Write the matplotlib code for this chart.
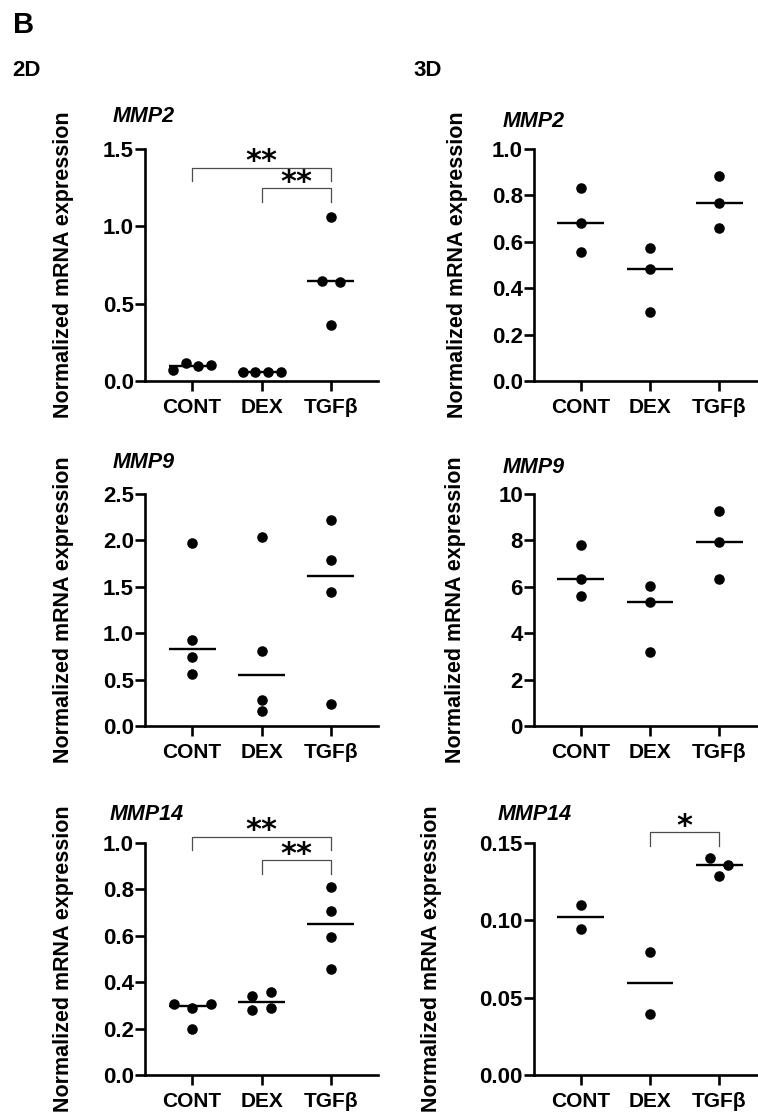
import numpy as np
import matplotlib
matplotlib.use('Agg')
import matplotlib.pyplot as plt
from matplotlib.ticker import FormatStrFormatter

plt.rcParams['font.family'] = ['Liberation Sans', 'DejaVu Sans']
plt.rcParams['font.weight'] = 'bold'
plt.rcParams['axes.labelweight'] = 'bold'

### DATA ###
groups = ['CONT', 'DEX', 'TGFβ']

# 2D culture
mmp2_2d = [[0.071, 0.114, 0.097, 0.103],
           [0.058, 0.060, 0.061, 0.060],
           [1.062, 0.649, 0.642, 0.362]]
mmp9_2d = [[1.976, 0.927, 0.740, 0.557],
           [2.037, 0.812, 0.280, 0.160],
           [2.220, 1.789, 1.448, 0.233]]
mmp14_2d = [[0.308, 0.287, 0.308, 0.198],
            [0.340, 0.359, 0.280, 0.287],
            [0.811, 0.706, 0.595, 0.459]]

# 3D culture
mmp2_3d = [[0.830, 0.682, 0.556],
           [0.572, 0.484, 0.296],
           [0.882, 0.767, 0.658]]
mmp9_3d = [[7.80, 6.34, 5.62],
           [6.05, 5.36, 3.20],
           [9.25, 7.93, 6.34]]
mmp14_3d = [[0.110, 0.0943],
            [0.0794, 0.0393],
            [0.1403, 0.1355, 0.1284]]

# significance brackets: (group a, group b, height, stars)
sig_mmp2_2d = [(0, 2, 1.38, '**'), (1, 2, 1.245, '**')]
sig_mmp14_2d = [(0, 2, 1.026, '**'), (1, 2, 0.925, '**')]
sig_mmp14_3d = [(1, 2, 0.157, '*')]


### LAYOUT (pixels) ###
W, H = 758, 1119
fig = plt.figure(figsize=(W / 100, H / 100), dpi=100)

cols = {'L': (145, 378, (-0.68, 2.68)),
        'R': (534, 757, (-0.68, 2.55))}
rows = [(149, 381), (494, 726), (843, 1075)]


def swarm_offsets(vals, px_unit, px_cat, bin_px=10, step_px=18.5, max_px=19):
    # GraphPad-like: points close in y go side by side in a row
    vals = np.asarray(vals, float)
    order = np.argsort(vals, kind='stable')
    offs = np.zeros(len(vals))
    bins, cur = [], [order[0]]
    for k in order[1:]:
        if (vals[k] - vals[cur[0]]) * px_unit < bin_px:
            cur.append(k)
        else:
            bins.append(cur)
            cur = [k]
    bins.append(cur)
    for b in bins:
        b = sorted(b)
        n = len(b)
        if n > 1:
            step = min(step_px, 2 * max_px / (n - 1))
            for j, k in enumerate(b):
                offs[k] = (j - (n - 1) / 2) * step / px_cat
    return offs


def panel(col, row, data, ymax, ystep, fmt, title, title_xy, ylab_x, sig=()):
    x0, x1, xlim = cols[col]
    yt, yb = rows[row]
    ax = fig.add_axes([x0 / W, 1 - yb / H, (x1 - x0) / W, (yb - yt) / H])
    ax.set_xlim(*xlim)
    ax.set_ylim(0, ymax)
    px_unit = (yb - yt) / ymax
    px_cat = (x1 - x0) / (xlim[1] - xlim[0])

    for i, vals in enumerate(data):
        offs = swarm_offsets(vals, px_unit, px_cat)
        ax.plot(i + offs, vals, 'o', color='black', markersize=7.6,
                markeredgewidth=0, clip_on=False, zorder=3)
        med = np.median(vals)
        ax.plot([i - 0.34, i + 0.34], [med, med], color='black',
                linewidth=1.7, solid_capstyle='butt', zorder=2)

    for a, b, h, stars in sig:
        d = 0.058 * ymax
        ax.plot([a, a, b, b], [h - d, h, h, h - d], color='0.3',
                linewidth=0.9, clip_on=False)
        ax.text((a + b) / 2, h - 0.036 * ymax, stars, ha='center', va='bottom',
                fontsize=22, family='DejaVu Sans', weight='bold', clip_on=False)

    for s in ['top', 'right']:
        ax.spines[s].set_visible(False)
    for s in ['left', 'bottom']:
        ax.spines[s].set_linewidth(1.9)
        ax.spines[s].set_capstyle('projecting')
    ax.set_xticks(range(len(groups)))
    ax.set_xticklabels(groups)
    ax.set_yticks(np.arange(0, ymax + ystep / 2, ystep))
    ax.yaxis.set_major_formatter(FormatStrFormatter(fmt))
    ax.tick_params(axis='both', direction='out', length=7, width=1.9)
    ax.tick_params(axis='y', pad=1, labelsize=16)
    ax.tick_params(axis='x', pad=5, labelsize=15)

    ax.set_ylabel('Normalized mRNA expression', fontsize=15.5, va='center')
    ax.yaxis.set_label_coords((ylab_x - x0) / (x1 - x0), 0.5)
    fig.text(title_xy[0] / W, 1 - title_xy[1] / H, title, fontsize=15.5,
             style='italic', weight='bold', ha='left', va='baseline')
    return ax


panel('L', 0, mmp2_2d, 1.5, 0.5, '%.1f', 'MMP2', (113, 122), 63.5, sig_mmp2_2d)
panel('L', 1, mmp9_2d, 2.5, 0.5, '%.1f', 'MMP9', (113, 468), 63.5)
panel('L', 2, mmp14_2d, 1.0, 0.2, '%.1f', 'MMP14', (110, 820), 63.5, sig_mmp14_2d)
panel('R', 0, mmp2_3d, 1.0, 0.2, '%.1f', 'MMP2', (503, 127), 458)
panel('R', 1, mmp9_3d, 10, 2, '%d', 'MMP9', (503, 473), 456)
panel('R', 2, mmp14_3d, 0.15, 0.05, '%.2f', 'MMP14', (498, 820), 431, sig_mmp14_3d)

fig.text(13 / W, 1 - 33 / H, 'B', fontsize=21, ha='left', va='baseline')
fig.text(12 / W, 1 - 76 / H, '2D', fontsize=16, ha='left', va='baseline')
fig.text(413 / W, 1 - 76 / H, '3D', fontsize=16, ha='left', va='baseline')

fig.savefig('out.png', dpi=100)
